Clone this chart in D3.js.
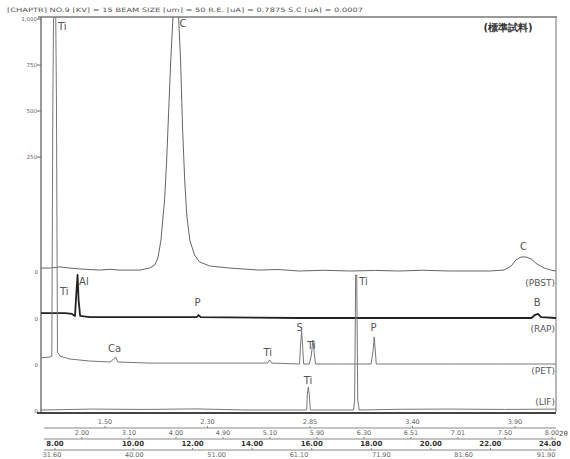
<!DOCTYPE html>
<html>
<head>
<meta charset="utf-8">
<script src="https://cdn.jsdelivr.net/npm/d3@7/dist/d3.min.js"></script>
<style>
body { margin: 0; background: #fff; }
svg text { font-family: "DejaVu Sans", sans-serif; }
</style>
</head>
<body>
<svg width="570" height="459"></svg>
<script>
// spectra: [scan position (% of scan), counts]
var pbst = [[0,16],[1.7,16],[3.7,22],[5.6,16],[7.6,11],[9.5,8],[11.4,5],[13.4,9],[15.3,5],[19.2,5],[21.1,16],[22.1,33],[22.7,71],
    [23.3,168],[23.6,266],[24.0,386],[24.4,603],[24.8,875],[25.2,1147],[25.6,1364],[26.0,1473],[26.4,1527],[26.7,1391],
    [27.1,1147],[27.5,766],[27.9,495],[28.3,304],[28.9,168],[29.8,87],[30.8,49],[32.8,27],[36.6,16],[42.4,5],[46.0,8],
    [50.2,0],[55.0,4],[59.9,0],[65.0,3],[69.6,0],[74.0,4],[79.3,0],[87.0,0],[89.9,5],[91.3,27],[92.2,60],[93.2,76],
    [94.2,76],[95.2,65],[96.3,38],[97.7,16],[99.0,5],[100,0]];
var rap = [[0,27],[2.7,27],[4.7,27],[6.0,22],[6.6,11],[6.9,152],[7.1,234],[7.3,98],[7.6,11],[9.5,5],[21.1,5],[30.2,5],
    [30.6,16],[31.0,5],[50.2,0],[69.6,0],[89.0,0],[95.2,0],[95.9,16],[96.5,22],[97.1,5],[100,0]];
var pet = [[0,33],[1.7,38],[2.1,43],[2.3,1435],[2.5,2087],[2.8,2087],[3.0,1435],[3.2,65],[3.7,43],[5.6,27],[9.5,16],
    [13.4,11],[14.1,27],[14.5,38],[14.9,11],[21.1,5],[30.8,5],[40.5,5],[44.0,5],[44.4,22],[44.8,5],[50.2,0],[50.4,103],
    [50.6,179],[50.8,103],[51.0,0],[52.1,0],[52.5,49],[52.8,130],[53.1,49],[53.3,0],[57.9,0],[64.1,0],[64.5,76],
    [64.7,147],[64.9,76],[65.1,0],[79.3,0],[89.0,0],[100,0]];
var lif = [[0,0],[10,5],[20,3],[30,6],[40,0],[50.2,0],[51.6,0],[51.7,82],[51.9,125],[52.1,82],[52.3,0],[60.7,0],
    [60.9,54],[61.1,734],[61.3,734],[61.5,54],[61.8,0],[70,4],[80,5],[90,3],[100,5]];

// peak labels: [channel, position, counts, text]
var peakLabels = [["PET",3.3,1815,"Ti"],["PBST",26.9,1326,"C"],["PBST",93.0,114,"C"],
    ["RAP",3.7,125,"Ti"],["RAP",7.4,179,"Al"],["RAP",29.8,65,"P"],["RAP",95.7,65,"B"],
    ["PET",13.0,65,"Ca"],["PET",43.2,43,"Ti"],["PET",49.6,179,"S"],["PET",51.7,82,"Ti"],["PET",64.0,179,"P"],
    ["LIF",51.0,141,"Ti"],["LIF",61.8,679,"Ti"]];

var yTicks = [250, 500, 750, 1000];
var row1Labels = ["1.50","2.30","2.85","3.40","3.90"];
var row2Labels = ["2.00","3.10","4.00","4.90","5.10","5.90","6.30","6.51","7.01","7.50","8.00"];
var row3Ticks = [8,10,12,14,16,18,20,22,24];
var row4Labels = ["31.60","40.00","51.00","61.10","71.90","81.60","91.90"];

var header = "[CHAPTR] NO.9  [KV] = 15  BEAM SIZE [um] = 50  R.E. [uA] = 0.7875  S.C [uA] = 0.0007";

var svg = d3.select("svg");
var m = {l: 41, r: 556, t: 17, b: 412};

var x = d3.scaleLinear().domain([0, 100]).range([m.l, m.r]);
var h = d3.scaleLinear().domain([0, 1000]).range([0, 184]);
var yAxis = d3.scaleLinear().domain([0, 1000]).range([203, 19]);

var channels = [
    {key: "PBST", name: "(PBST)", data: pbst, base: 271, color: "#666", width: 1, dy: 15},
    {key: "RAP", name: "(RAP)", data: rap, base: 318, color: "#222", width: 1.8, dy: 14},
    {key: "PET", name: "(PET)", data: pet, base: 364, color: "#777", width: 1, dy: 10},
    {key: "LIF", name: "(LIF)", data: lif, base: 410, color: "#777", width: 1, dy: -5}
];
var byKey = {};
channels.forEach(function(c) { byKey[c.key] = c; });

svg.append("defs").append("clipPath").attr("id", "frame")
    .append("rect").attr("x", m.l).attr("y", m.t).attr("width", m.r - m.l).attr("height", m.b - m.t);

// header
svg.append("text")
    .attr("x", 7).attr("y", 12)
    .attr("font-size", "6px").attr("fill", "#555")
    .attr("textLength", 356).attr("lengthAdjust", "spacingAndGlyphs")
    .text(header);

// frame
svg.append("line").attr("x1", m.l - 3).attr("x2", m.r + 1).attr("y1", m.t).attr("y2", m.t)
    .attr("stroke", "#777").attr("stroke-width", 1.5);
svg.append("line").attr("x1", m.l).attr("x2", m.l).attr("y1", m.t).attr("y2", m.b)
    .attr("stroke", "#777").attr("stroke-width", 1.5);
svg.append("line").attr("x1", m.r).attr("x2", m.r).attr("y1", m.t).attr("y2", m.b)
    .attr("stroke", "#888").attr("stroke-width", 1.2);
svg.append("line").attr("x1", m.l - 4).attr("x2", m.r).attr("y1", m.b + 1).attr("y2", m.b + 1)
    .attr("stroke", "#444").attr("stroke-width", 2);

// left intensity ticks
var yt = svg.append("g").attr("fill", "#666").attr("font-size", "5.5px");
yt.selectAll("line").data(yTicks).enter().append("line")
    .attr("x1", m.l - 4).attr("x2", m.l)
    .attr("y1", function(d) { return yAxis(d); }).attr("y2", function(d) { return yAxis(d); })
    .attr("stroke", "#666");
yt.selectAll("text").data(yTicks).enter().append("text")
    .attr("x", m.l - 4).attr("y", function(d) { return yAxis(d) + 2; })
    .attr("text-anchor", "end")
    .text(function(d) { return d3.format(",")(d); });

// channel zero marks
svg.selectAll(".zero").data(channels).enter().append("text")
    .attr("class", "zero")
    .attr("x", m.l - 3).attr("y", function(d) { return d.base + 3; })
    .attr("text-anchor", "end").attr("font-size", "5.5px").attr("fill", "#555")
    .text("0");

// traces
var plot = svg.append("g").attr("clip-path", "url(#frame)");
channels.forEach(function(c) {
    var line = d3.line()
        .x(function(d) { return x(d[0]); })
        .y(function(d) { return c.base - h(d[1]); });
    plot.append("path")
        .datum(c.data)
        .attr("d", line)
        .attr("fill", "none")
        .attr("stroke", c.color)
        .attr("stroke-width", c.width)
        .attr("stroke-linejoin", "round");
});

// crystal names
svg.selectAll(".cname").data(channels).enter().append("text")
    .attr("class", "cname")
    .attr("x", m.r - 1).attr("y", function(d) { return d.base + d.dy; })
    .attr("text-anchor", "end").attr("font-size", "9px").attr("fill", "#555")
    .text(function(d) { return d.name; });

// peak labels
svg.selectAll(".peak").data(peakLabels).enter().append("text")
    .attr("class", "peak")
    .attr("x", function(d) { return x(d[1]); })
    .attr("y", function(d) { return byKey[d[0]].base - h(d[2]); })
    .attr("font-size", "10px").attr("fill", "#555")
    .text(function(d) { return d[3]; });

// sample name
svg.append("text")
    .attr("x", 508).attr("y", 31)
    .attr("text-anchor", "middle")
    .attr("font-family", "'Noto Sans CJK JP'")
    .attr("font-size", "10px").attr("font-weight", "bold").attr("fill", "#333")
    .text("(標準試料)");

// bottom scale rows
var rows = [
    {labels: row1Labels, scale: d3.scalePoint().domain(row1Labels).range([105, 515]), y: 428, size: 6.5, bold: false},
    {labels: row2Labels, scale: d3.scalePoint().domain(row2Labels).range([82, 552]), y: 439, size: 6.5, bold: false},
    {labels: row3Ticks, scale: d3.scaleLinear().domain([8, 10, 24]).range([55, 133, 550]), y: 450, size: 7, bold: true,
        fmt: d3.format(".2f")},
    {labels: row4Labels, scale: d3.scalePoint().domain(row4Labels).range([52, 546]), y: 461, size: 6.5, bold: false}
];
rows.forEach(function(r) {
    var g = svg.append("g");
    if (r.y < 459) {
        g.append("line").attr("x1", 44).attr("x2", m.r).attr("y1", r.y).attr("y2", r.y)
            .attr("stroke", "#888").attr("stroke-width", 1);
        g.selectAll("line.t").data(r.labels).enter().append("line")
            .attr("class", "t")
            .attr("x1", function(d) { return r.scale(d); }).attr("x2", function(d) { return r.scale(d); })
            .attr("y1", r.y - 2).attr("y2", r.y)
            .attr("stroke", "#888");
    }
    g.selectAll("text").data(r.labels).enter().append("text")
        .attr("x", function(d) { return r.scale(d); })
        .attr("y", r.y - 4)
        .attr("text-anchor", "middle")
        .attr("font-size", r.size + "px")
        .attr("font-weight", r.bold ? "bold" : "normal")
        .attr("fill", r.bold ? "#333" : "#666")
        .text(function(d) { return r.fmt ? r.fmt(d) : d; });
});
svg.append("text").attr("x", 559).attr("y", 436)
    .attr("font-size", "7px").attr("fill", "#444").text("2θ");
</script>
</body>
</html>
